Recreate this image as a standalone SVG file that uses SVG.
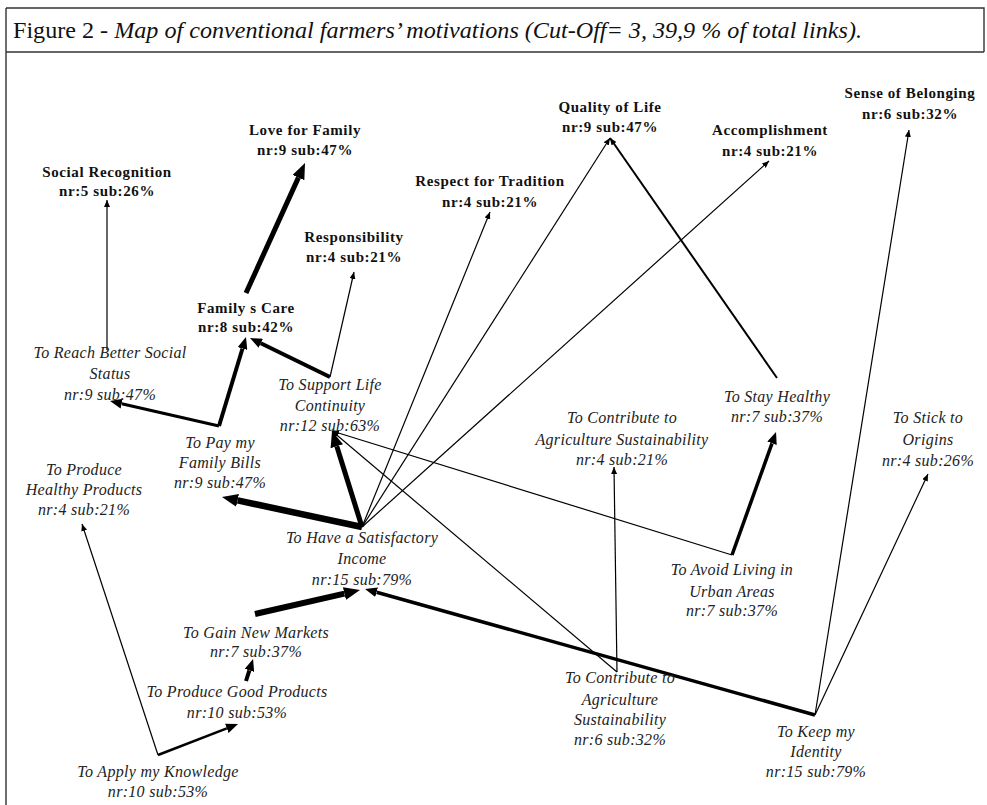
<svg xmlns="http://www.w3.org/2000/svg" width="987" height="805" viewBox="0 0 987 805">
<style>
.frame{stroke:#333;stroke-width:1.4;fill:none}
.v{font-family:"Liberation Serif","Times New Roman",serif;font-weight:bold;font-size:15px;letter-spacing:0.6px;fill:#111;text-anchor:middle}
.c{font-family:"Liberation Serif","Times New Roman",serif;font-style:italic;font-size:16px;letter-spacing:0.3px;fill:#222;text-anchor:middle}
.t{font-family:"Liberation Serif","Times New Roman",serif;font-size:23px;fill:#111}
.l1{stroke:#000;stroke-width:1.2;fill:none;marker-end:url(#ah1)}
.l2{stroke:#000;stroke-width:2;fill:none;marker-end:url(#ah1)}
.m{stroke:#000;fill:none;marker-end:url(#ah2)}
.b{stroke:#000;fill:none;marker-end:url(#ah3)}
</style>
<defs>
<marker id="ah1" markerUnits="userSpaceOnUse" markerWidth="8" markerHeight="6" refX="7" refY="3" orient="auto"><path d="M0,0 L7,3 L0,6 z" fill="#000"/></marker>
<marker id="ah2" markerUnits="userSpaceOnUse" markerWidth="13" markerHeight="10" refX="0" refY="5" orient="auto"><path d="M0,0 L12,5 L0,10 z" fill="#000"/></marker>
<marker id="ah3" markerUnits="userSpaceOnUse" markerWidth="17" markerHeight="13" refX="0" refY="6.5" orient="auto"><path d="M0,0 L16,6.5 L0,13 z" fill="#000"/></marker>
</defs>
<rect width="987" height="805" fill="#fff"/>
<g id="frame">
<path class="frame" d="M6,8 H984 V52 M6,52 H984 M6,8 V805"/>
<text class="t" x="13" y="38" textLength="849" lengthAdjust="spacingAndGlyphs">Figure 2 - <tspan font-style="italic">Map of conventional farmers’ motivations (Cut-Off= 3, 39,9 % of total links).</tspan></text>
</g>
<g id="connectors">
<path class="l1" d="M107,350 L107,200"/>
<path class="b" stroke-width="5" d="M246,293 L298.4,177.6"/>
<path class="m" stroke-width="4" d="M219,426 L242.5,348.5"/>
<path class="m" stroke-width="3" d="M219,426 L121.7,403.7"/>
<path class="m" stroke-width="4" d="M330,377 L260.8,343.3"/>
<path class="l1" d="M330,377 L354,272"/>
<path class="b" stroke-width="5" d="M362,527 L336.8,446.3"/>
<path class="b" stroke-width="6.5" d="M362,527 L237.6,500.4"/>
<path class="l1" d="M362,527 L490,212"/>
<path class="l1" d="M362,527 L610,138"/>
<path class="l1" d="M362,527 L769,161"/>
<path class="l2" d="M777,378 L610,138"/>
<path class="l1" d="M732,555 L332,431"/>
<path class="l1" d="M617,672 L332,431"/>
<path class="l1" d="M617,672 L614,467"/>
<path class="m" stroke-width="3.5" d="M815,715 L376.6,592.2"/>
<path class="b" stroke-width="6" d="M255,614 L344.4,593.6"/>
<path class="m" stroke-width="4" d="M246,681 L249.4,670.4"/>
<path class="m" stroke-width="2.5" d="M158,755 L226.8,728.3"/>
<path class="l1" d="M158,755 L82,524"/>
<path class="m" stroke-width="3.5" d="M732,555 L772,443.3"/>
<path class="l1" d="M815,715 L909,130"/>
<path class="l1" d="M815,715 L928,474"/>
</g>
<g id="n_social"><text class="v" x="107" y="177">Social Recognition</text><text class="v" x="107" y="196">nr:5 sub:26%</text></g>
<g id="n_love"><text class="v" x="305" y="135">Love for Family</text><text class="v" x="305" y="155">nr:9 sub:47%</text></g>
<g id="n_familycare"><text class="v" x="246" y="313">Family s Care</text><text class="v" x="246" y="332">nr:8 sub:42%</text></g>
<g id="n_responsibility"><text class="v" x="354" y="242">Responsibility</text><text class="v" x="354" y="262">nr:4 sub:21%</text></g>
<g id="n_tradition"><text class="v" x="490" y="186">Respect for Tradition</text><text class="v" x="490" y="207">nr:4 sub:21%</text></g>
<g id="n_quality"><text class="v" x="610" y="112">Quality of Life</text><text class="v" x="610" y="132">nr:9 sub:47%</text></g>
<g id="n_accomplishment"><text class="v" x="770" y="135">Accomplishment</text><text class="v" x="770" y="156">nr:4 sub:21%</text></g>
<g id="n_belonging"><text class="v" x="910" y="98">Sense of Belonging</text><text class="v" x="910" y="119">nr:6 sub:32%</text></g>
<g id="n_reach"><text class="c" x="110" y="358">To Reach Better Social</text><text class="c" x="110" y="379">Status</text><text class="c" x="110" y="400">nr:9 sub:47%</text></g>
<g id="n_support"><text class="c" x="330" y="390">To Support Life</text><text class="c" x="330" y="411">Continuity</text><text class="c" x="330" y="431">nr:12 sub:63%</text></g>
<g id="n_paybills"><text class="c" x="220" y="448">To Pay my</text><text class="c" x="220" y="468">Family Bills</text><text class="c" x="220" y="488">nr:9 sub:47%</text></g>
<g id="n_healthyproducts"><text class="c" x="84" y="475">To Produce</text><text class="c" x="84" y="495">Healthy Products</text><text class="c" x="84" y="515">nr:4 sub:21%</text></g>
<g id="n_income"><text class="c" x="362" y="543">To Have a Satisfactory</text><text class="c" x="362" y="564">Income</text><text class="c" x="362" y="585">nr:15 sub:79%</text></g>
<g id="n_markets"><text class="c" x="256" y="638">To Gain New Markets</text><text class="c" x="256" y="657">nr:7 sub:37%</text></g>
<g id="n_goodproducts"><text class="c" x="237" y="697">To Produce Good Products</text><text class="c" x="237" y="718">nr:10 sub:53%</text></g>
<g id="n_knowledge"><text class="c" x="158" y="777">To Apply my Knowledge</text><text class="c" x="158" y="797">nr:10 sub:53%</text></g>
<g id="n_contribute1"><text class="c" x="622" y="423">To Contribute to</text><text class="c" x="622" y="445">Agriculture Sustainability</text><text class="c" x="622" y="465">nr:4 sub:21%</text></g>
<g id="n_stayhealthy"><text class="c" x="777" y="402">To Stay Healthy</text><text class="c" x="777" y="422">nr:7 sub:37%</text></g>
<g id="n_origins"><text class="c" x="928" y="423">To Stick to</text><text class="c" x="928" y="445">Origins</text><text class="c" x="928" y="466">nr:4 sub:26%</text></g>
<g id="n_urban"><text class="c" x="732" y="575">To Avoid Living in</text><text class="c" x="732" y="597">Urban Areas</text><text class="c" x="732" y="616">nr:7 sub:37%</text></g>
<g id="n_contribute2"><text class="c" x="620" y="683">To Contribute to</text><text class="c" x="620" y="705">Agriculture</text><text class="c" x="620" y="725">Sustainability</text><text class="c" x="620" y="745">nr:6 sub:32%</text></g>
<g id="n_identity"><text class="c" x="816" y="737">To Keep my</text><text class="c" x="816" y="757">Identity</text><text class="c" x="816" y="777">nr:15 sub:79%</text></g>
</svg>
